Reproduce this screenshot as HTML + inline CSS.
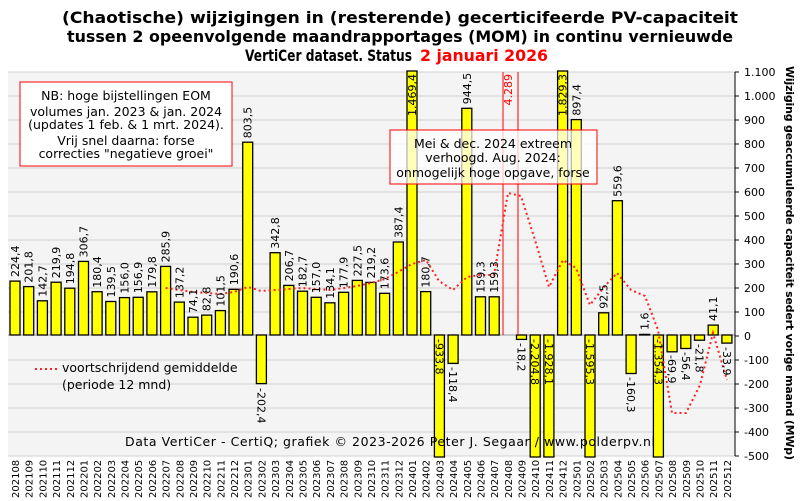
<!DOCTYPE html>
<html><head><meta charset="utf-8"><style>html,body{margin:0;background:#fff;overflow:hidden;width:801px;height:501px}svg{display:block}</style></head><body>
<svg width="801" height="501" viewBox="0 0 801 501" xmlns="http://www.w3.org/2000/svg" font-family="DejaVu Sans, Liberation Sans, sans-serif">
<rect x="8" y="72" width="727" height="384" fill="#f4f4f4"/>
<g stroke="#d0d0d0" stroke-width="1">
<line x1="8" x2="735" y1="72" y2="72"/><line x1="8" x2="735" y1="96" y2="96"/><line x1="8" x2="735" y1="120" y2="120"/><line x1="8" x2="735" y1="144" y2="144"/><line x1="8" x2="735" y1="168" y2="168"/><line x1="8" x2="735" y1="192" y2="192"/><line x1="8" x2="735" y1="216" y2="216"/><line x1="8" x2="735" y1="240" y2="240"/><line x1="8" x2="735" y1="264" y2="264"/><line x1="8" x2="735" y1="288" y2="288"/><line x1="8" x2="735" y1="312" y2="312"/><line x1="8" x2="735" y1="360" y2="360"/><line x1="8" x2="735" y1="384" y2="384"/><line x1="8" x2="735" y1="408" y2="408"/><line x1="8" x2="735" y1="432" y2="432"/><line x1="8" x2="735" y1="456" y2="456"/>
</g>
<line x1="8" x2="735" y1="335" y2="335" stroke="#999"/>
<g fill="#ffff00" stroke="#000" stroke-width="1.3">
<rect x="10" y="281.1" width="10" height="53.9"/>
<rect x="23.7" y="286.6" width="10" height="48.4"/>
<rect x="37.4" y="300.8" width="10" height="34.2"/>
<rect x="51.1" y="282.2" width="10" height="52.8"/>
<rect x="64.8" y="288.2" width="10" height="46.8"/>
<rect x="78.5" y="261.4" width="10" height="73.6"/>
<rect x="92.1" y="291.7" width="10" height="43.3"/>
<rect x="105.8" y="301.5" width="10" height="33.5"/>
<rect x="119.5" y="297.6" width="10" height="37.4"/>
<rect x="133.2" y="297.3" width="10" height="37.7"/>
<rect x="146.9" y="291.8" width="10" height="43.2"/>
<rect x="160.6" y="266.4" width="10" height="68.6"/>
<rect x="174.3" y="302.1" width="10" height="32.9"/>
<rect x="188" y="317.2" width="10" height="17.8"/>
<rect x="201.7" y="315.1" width="10" height="19.9"/>
<rect x="215.4" y="310.6" width="10" height="24.4"/>
<rect x="229" y="289.3" width="10" height="45.7"/>
<rect x="242.7" y="142.2" width="10" height="192.8"/>
<rect x="256.4" y="335" width="10" height="48.6"/>
<rect x="270.1" y="252.7" width="10" height="82.3"/>
<rect x="283.8" y="285.4" width="10" height="49.6"/>
<rect x="297.5" y="291.2" width="10" height="43.8"/>
<rect x="311.2" y="297.3" width="10" height="37.7"/>
<rect x="324.9" y="302.8" width="10" height="32.2"/>
<rect x="338.6" y="292.3" width="10" height="42.7"/>
<rect x="352.3" y="280.4" width="10" height="54.6"/>
<rect x="365.9" y="282.4" width="10" height="52.6"/>
<rect x="379.6" y="293.3" width="10" height="41.7"/>
<rect x="393.3" y="242" width="10" height="93"/>
<rect x="407" y="71" width="10" height="264"/>
<rect x="420.7" y="291.6" width="10" height="43.4"/>
<rect x="434.4" y="335" width="10" height="122"/>
<rect x="448.1" y="335" width="10" height="28.4"/>
<rect x="461.8" y="108.3" width="10" height="226.7"/>
<rect x="475.5" y="296.8" width="10" height="38.2"/>
<rect x="489.2" y="296.8" width="10" height="38.2"/>
<rect x="516.5" y="335" width="10" height="4.4"/>
<rect x="530.2" y="335" width="10" height="122"/>
<rect x="543.9" y="335" width="10" height="122"/>
<rect x="557.6" y="71" width="10" height="264"/>
<rect x="571.3" y="119.6" width="10" height="215.4"/>
<rect x="585" y="335" width="10" height="122"/>
<rect x="598.7" y="312.8" width="10" height="22.2"/>
<rect x="612.4" y="200.7" width="10" height="134.3"/>
<rect x="626.1" y="335" width="10" height="38.5"/>
<rect x="639.7" y="334.4" width="10" height="0.6"/>
<rect x="653.4" y="335" width="10" height="122"/>
<rect x="667.1" y="335" width="10" height="16.8"/>
<rect x="680.8" y="335" width="10" height="13.5"/>
<rect x="694.5" y="335" width="10" height="5.2"/>
<rect x="708.2" y="325.1" width="10" height="9.9"/>
<rect x="721.9" y="335" width="10" height="8.1"/>
</g>
<g stroke="#ff0000" stroke-width="1"><line x1="503" x2="503" y1="72" y2="335"/><line x1="518" x2="518" y1="72" y2="335"/></g>
<polyline fill="none" stroke="#ff2020" stroke-width="2" stroke-dasharray="2,3" points="165.6,288 179,290 193,292 207,293 220,294 234,292 248,287 261,291 275,290 289,289 302,288 316,289 330,290 344,288 357,286 371,283 385,279 398,272 412,264 426,260 439,281 453,290 467,277 480,275 494,275 508,193 521,196 535,240 549,287 563,260 576,268 590,305 604,287 617,273 631,290 645,296 658,330 672,413 686,413 700,385 713,333 727,380"/>
<g font-size="11" fill="#000">
<g text-anchor="start">
<text transform="translate(19,277) rotate(-90)">224,4</text>
<text transform="translate(32.7,282.6) rotate(-90)">201,8</text>
<text transform="translate(46.4,296.8) rotate(-90)">142,7</text>
<text transform="translate(60.1,278.2) rotate(-90)">219,9</text>
<text transform="translate(73.8,284.2) rotate(-90)">194,8</text>
<text transform="translate(87.5,257.4) rotate(-90)">306,7</text>
<text transform="translate(101.1,287.7) rotate(-90)">180,4</text>
<text transform="translate(114.8,297.5) rotate(-90)">139,5</text>
<text transform="translate(128.5,293.6) rotate(-90)">156,0</text>
<text transform="translate(142.2,293.3) rotate(-90)">156,9</text>
<text transform="translate(155.9,287.8) rotate(-90)">179,8</text>
<text transform="translate(169.6,262.4) rotate(-90)">285,9</text>
<text transform="translate(183.3,298.1) rotate(-90)">137,2</text>
<text transform="translate(197,313.2) rotate(-90)">74,1</text>
<text transform="translate(210.7,311.1) rotate(-90)">82,8</text>
<text transform="translate(224.4,306.6) rotate(-90)">101,5</text>
<text transform="translate(238,285.3) rotate(-90)">190,6</text>
<text transform="translate(251.7,138.2) rotate(-90)">803,5</text>
<text transform="translate(279.1,248.7) rotate(-90)">342,8</text>
<text transform="translate(292.8,281.4) rotate(-90)">206,7</text>
<text transform="translate(306.5,287.2) rotate(-90)">182,7</text>
<text transform="translate(320.2,293.3) rotate(-90)">157,0</text>
<text transform="translate(333.9,298.8) rotate(-90)">134,1</text>
<text transform="translate(347.6,288.3) rotate(-90)">177,9</text>
<text transform="translate(361.3,276.4) rotate(-90)">227,5</text>
<text transform="translate(374.9,278.4) rotate(-90)">219,2</text>
<text transform="translate(388.6,289.3) rotate(-90)">173,6</text>
<text transform="translate(402.3,238) rotate(-90)">387,4</text>
<text transform="translate(429.7,287.6) rotate(-90)">180,7</text>
<text transform="translate(470.8,104.3) rotate(-90)">944,5</text>
<text transform="translate(484.5,292.8) rotate(-90)">159,3</text>
<text transform="translate(498.2,292.8) rotate(-90)">159,3</text>
<text transform="translate(580.3,115.6) rotate(-90)">897,4</text>
<text transform="translate(607.7,308.8) rotate(-90)">92,5</text>
<text transform="translate(621.4,196.7) rotate(-90)">559,6</text>
<text transform="translate(648.7,330) rotate(-90)">1,6</text>
<text transform="translate(717.2,321) rotate(-90)">41,1</text>
</g>
<g text-anchor="end">
<text transform="translate(416,74) rotate(-90)">1.469,4</text>
<text transform="translate(566.6,74) rotate(-90)">1.829,3</text>
<text transform="translate(512,74) rotate(-90)" fill="#ff0000">4.289</text>
</g>
<g text-anchor="start">
<text transform="translate(257.4,388) rotate(90)">-202,4</text>
<text transform="translate(435.4,339) rotate(90)">-933,8</text>
<text transform="translate(449.1,367) rotate(90)">-118,4</text>
<text transform="translate(517.5,343) rotate(90)">-18,2</text>
<text transform="translate(531.2,339) rotate(90)">-2.204,8</text>
<text transform="translate(544.9,339) rotate(90)">-1.928,1</text>
<text transform="translate(586,339) rotate(90)">-1.595,3</text>
<text transform="translate(627.1,377) rotate(90)">-160,3</text>
<text transform="translate(654.4,339) rotate(90)">-1.354,3</text>
<text transform="translate(668.1,355) rotate(90)">-69,9</text>
<text transform="translate(681.8,352) rotate(90)">-56,4</text>
<text transform="translate(695.5,344) rotate(90)">-21,8</text>
<text transform="translate(722.9,347) rotate(90)">-33,9</text>
</g>
</g>
<rect x="20" y="82" width="212" height="84" fill="#fff" stroke="#ff0000"/>
<g font-size="12.5" text-anchor="middle">
<text x="126" y="100">NB: hoge bijstellingen EOM</text>
<text x="126" y="116">volumes jan. 2023 &amp; jan. 2024</text>
<text x="126" y="129">(updates 1 feb. &amp; 1 mrt. 2024).</text>
<text x="126" y="145">Vrij snel daarna: forse</text>
<text x="126" y="158">correcties "negatieve groei"</text>
</g>
<rect x="390" y="130" width="207" height="54" fill="#fff" fill-opacity="0.72" stroke="#ff0000"/>
<g font-size="12.5" text-anchor="middle">
<text x="493" y="148">Mei &amp; dec. 2024 extreem</text>
<text x="493" y="162">verhoogd. Aug. 2024:</text>
<text x="493" y="177">onmogelijk hoge opgave, forse</text>
</g>
<line x1="35" x2="60" y1="369" y2="369" stroke="#ff2020" stroke-width="2" stroke-dasharray="2,3"/>
<text x="62" y="372" font-size="12.5">voortschrijdend gemiddelde</text>
<text x="62" y="389" font-size="12.5">(periode 12 mnd)</text>
<text x="390" y="446" font-size="12.5" text-anchor="middle" textLength="530">Data VertiCer - CertiQ; grafiek © 2023-2026 Peter J. Segaar / www.polderpv.nl</text>
<line x1="735" x2="735" y1="72" y2="456" stroke="#000"/>
<g stroke="#000"><line x1="735" x2="739" y1="72" y2="72"/><line x1="735" x2="739" y1="96" y2="96"/><line x1="735" x2="739" y1="120" y2="120"/><line x1="735" x2="739" y1="144" y2="144"/><line x1="735" x2="739" y1="168" y2="168"/><line x1="735" x2="739" y1="192" y2="192"/><line x1="735" x2="739" y1="216" y2="216"/><line x1="735" x2="739" y1="240" y2="240"/><line x1="735" x2="739" y1="264" y2="264"/><line x1="735" x2="739" y1="288" y2="288"/><line x1="735" x2="739" y1="312" y2="312"/><line x1="735" x2="739" y1="336" y2="336"/><line x1="735" x2="739" y1="360" y2="360"/><line x1="735" x2="739" y1="384" y2="384"/><line x1="735" x2="739" y1="408" y2="408"/><line x1="735" x2="739" y1="432" y2="432"/><line x1="735" x2="739" y1="456" y2="456"/></g>
<g font-size="11">
<text x="744" y="76">1.100</text><text x="744" y="100">1.000</text><text x="744" y="124">900</text><text x="744" y="148">800</text><text x="744" y="172">700</text><text x="744" y="196">600</text><text x="744" y="220">500</text><text x="744" y="244">400</text><text x="744" y="268">300</text><text x="744" y="292">200</text><text x="744" y="316">100</text><text x="744" y="340">0</text><text x="744" y="364">-100</text><text x="744" y="388">-200</text><text x="744" y="412">-300</text><text x="744" y="436">-400</text><text x="744" y="460">-500</text>
</g>
<text transform="translate(786,66) rotate(90)" font-size="11" font-weight="bold" textLength="394">Wijziging geaccumuleerde capaciteit sedert vorige maand (MWp)</text>
<g font-size="10" text-anchor="start">
<text transform="translate(19,498) rotate(-90)">202108</text><text transform="translate(32.7,498) rotate(-90)">202109</text><text transform="translate(46.4,498) rotate(-90)">202110</text><text transform="translate(60.1,498) rotate(-90)">202111</text><text transform="translate(73.8,498) rotate(-90)">202112</text><text transform="translate(87.5,498) rotate(-90)">202201</text><text transform="translate(101.1,498) rotate(-90)">202202</text><text transform="translate(114.8,498) rotate(-90)">202203</text><text transform="translate(128.5,498) rotate(-90)">202204</text><text transform="translate(142.2,498) rotate(-90)">202205</text><text transform="translate(155.9,498) rotate(-90)">202206</text><text transform="translate(169.6,498) rotate(-90)">202207</text><text transform="translate(183.3,498) rotate(-90)">202208</text><text transform="translate(197,498) rotate(-90)">202209</text><text transform="translate(210.7,498) rotate(-90)">202210</text><text transform="translate(224.4,498) rotate(-90)">202211</text><text transform="translate(238,498) rotate(-90)">202212</text><text transform="translate(251.7,498) rotate(-90)">202301</text><text transform="translate(265.4,498) rotate(-90)">202302</text><text transform="translate(279.1,498) rotate(-90)">202303</text><text transform="translate(292.8,498) rotate(-90)">202304</text><text transform="translate(306.5,498) rotate(-90)">202305</text><text transform="translate(320.2,498) rotate(-90)">202306</text><text transform="translate(333.9,498) rotate(-90)">202307</text><text transform="translate(347.6,498) rotate(-90)">202308</text><text transform="translate(361.3,498) rotate(-90)">202309</text><text transform="translate(374.9,498) rotate(-90)">202310</text><text transform="translate(388.6,498) rotate(-90)">202311</text><text transform="translate(402.3,498) rotate(-90)">202312</text><text transform="translate(416,498) rotate(-90)">202401</text><text transform="translate(429.7,498) rotate(-90)">202402</text><text transform="translate(443.4,498) rotate(-90)">202403</text><text transform="translate(457.1,498) rotate(-90)">202404</text><text transform="translate(470.8,498) rotate(-90)">202405</text><text transform="translate(484.5,498) rotate(-90)">202406</text><text transform="translate(498.2,498) rotate(-90)">202407</text><text transform="translate(511.8,498) rotate(-90)">202408</text><text transform="translate(525.5,498) rotate(-90)">202409</text><text transform="translate(539.2,498) rotate(-90)">202410</text><text transform="translate(552.9,498) rotate(-90)">202411</text><text transform="translate(566.6,498) rotate(-90)">202412</text><text transform="translate(580.3,498) rotate(-90)">202501</text><text transform="translate(594,498) rotate(-90)">202502</text><text transform="translate(607.7,498) rotate(-90)">202503</text><text transform="translate(621.4,498) rotate(-90)">202504</text><text transform="translate(635.1,498) rotate(-90)">202505</text><text transform="translate(648.7,498) rotate(-90)">202506</text><text transform="translate(662.4,498) rotate(-90)">202507</text><text transform="translate(676.1,498) rotate(-90)">202508</text><text transform="translate(689.8,498) rotate(-90)">202509</text><text transform="translate(703.5,498) rotate(-90)">202510</text><text transform="translate(717.2,498) rotate(-90)">202511</text><text transform="translate(730.9,498) rotate(-90)">202512</text>
</g>
<g font-size="16" font-weight="bold">
<text x="62" y="23" textLength="676" lengthAdjust="spacingAndGlyphs">(Chaotische) wijzigingen in (resterende) gecerticifeerde PV-capaciteit</text>
<text x="67" y="42" textLength="666" lengthAdjust="spacingAndGlyphs">tussen 2 opeenvolgende maandrapportages (MOM) in continu vernieuwde</text>
<text x="245" y="61" textLength="167" lengthAdjust="spacingAndGlyphs">VertiCer dataset. Status</text>
<text x="420" y="61" textLength="128" lengthAdjust="spacingAndGlyphs" fill="#ff0000">2 januari 2026</text>
</g>
</svg>
</body></html>
